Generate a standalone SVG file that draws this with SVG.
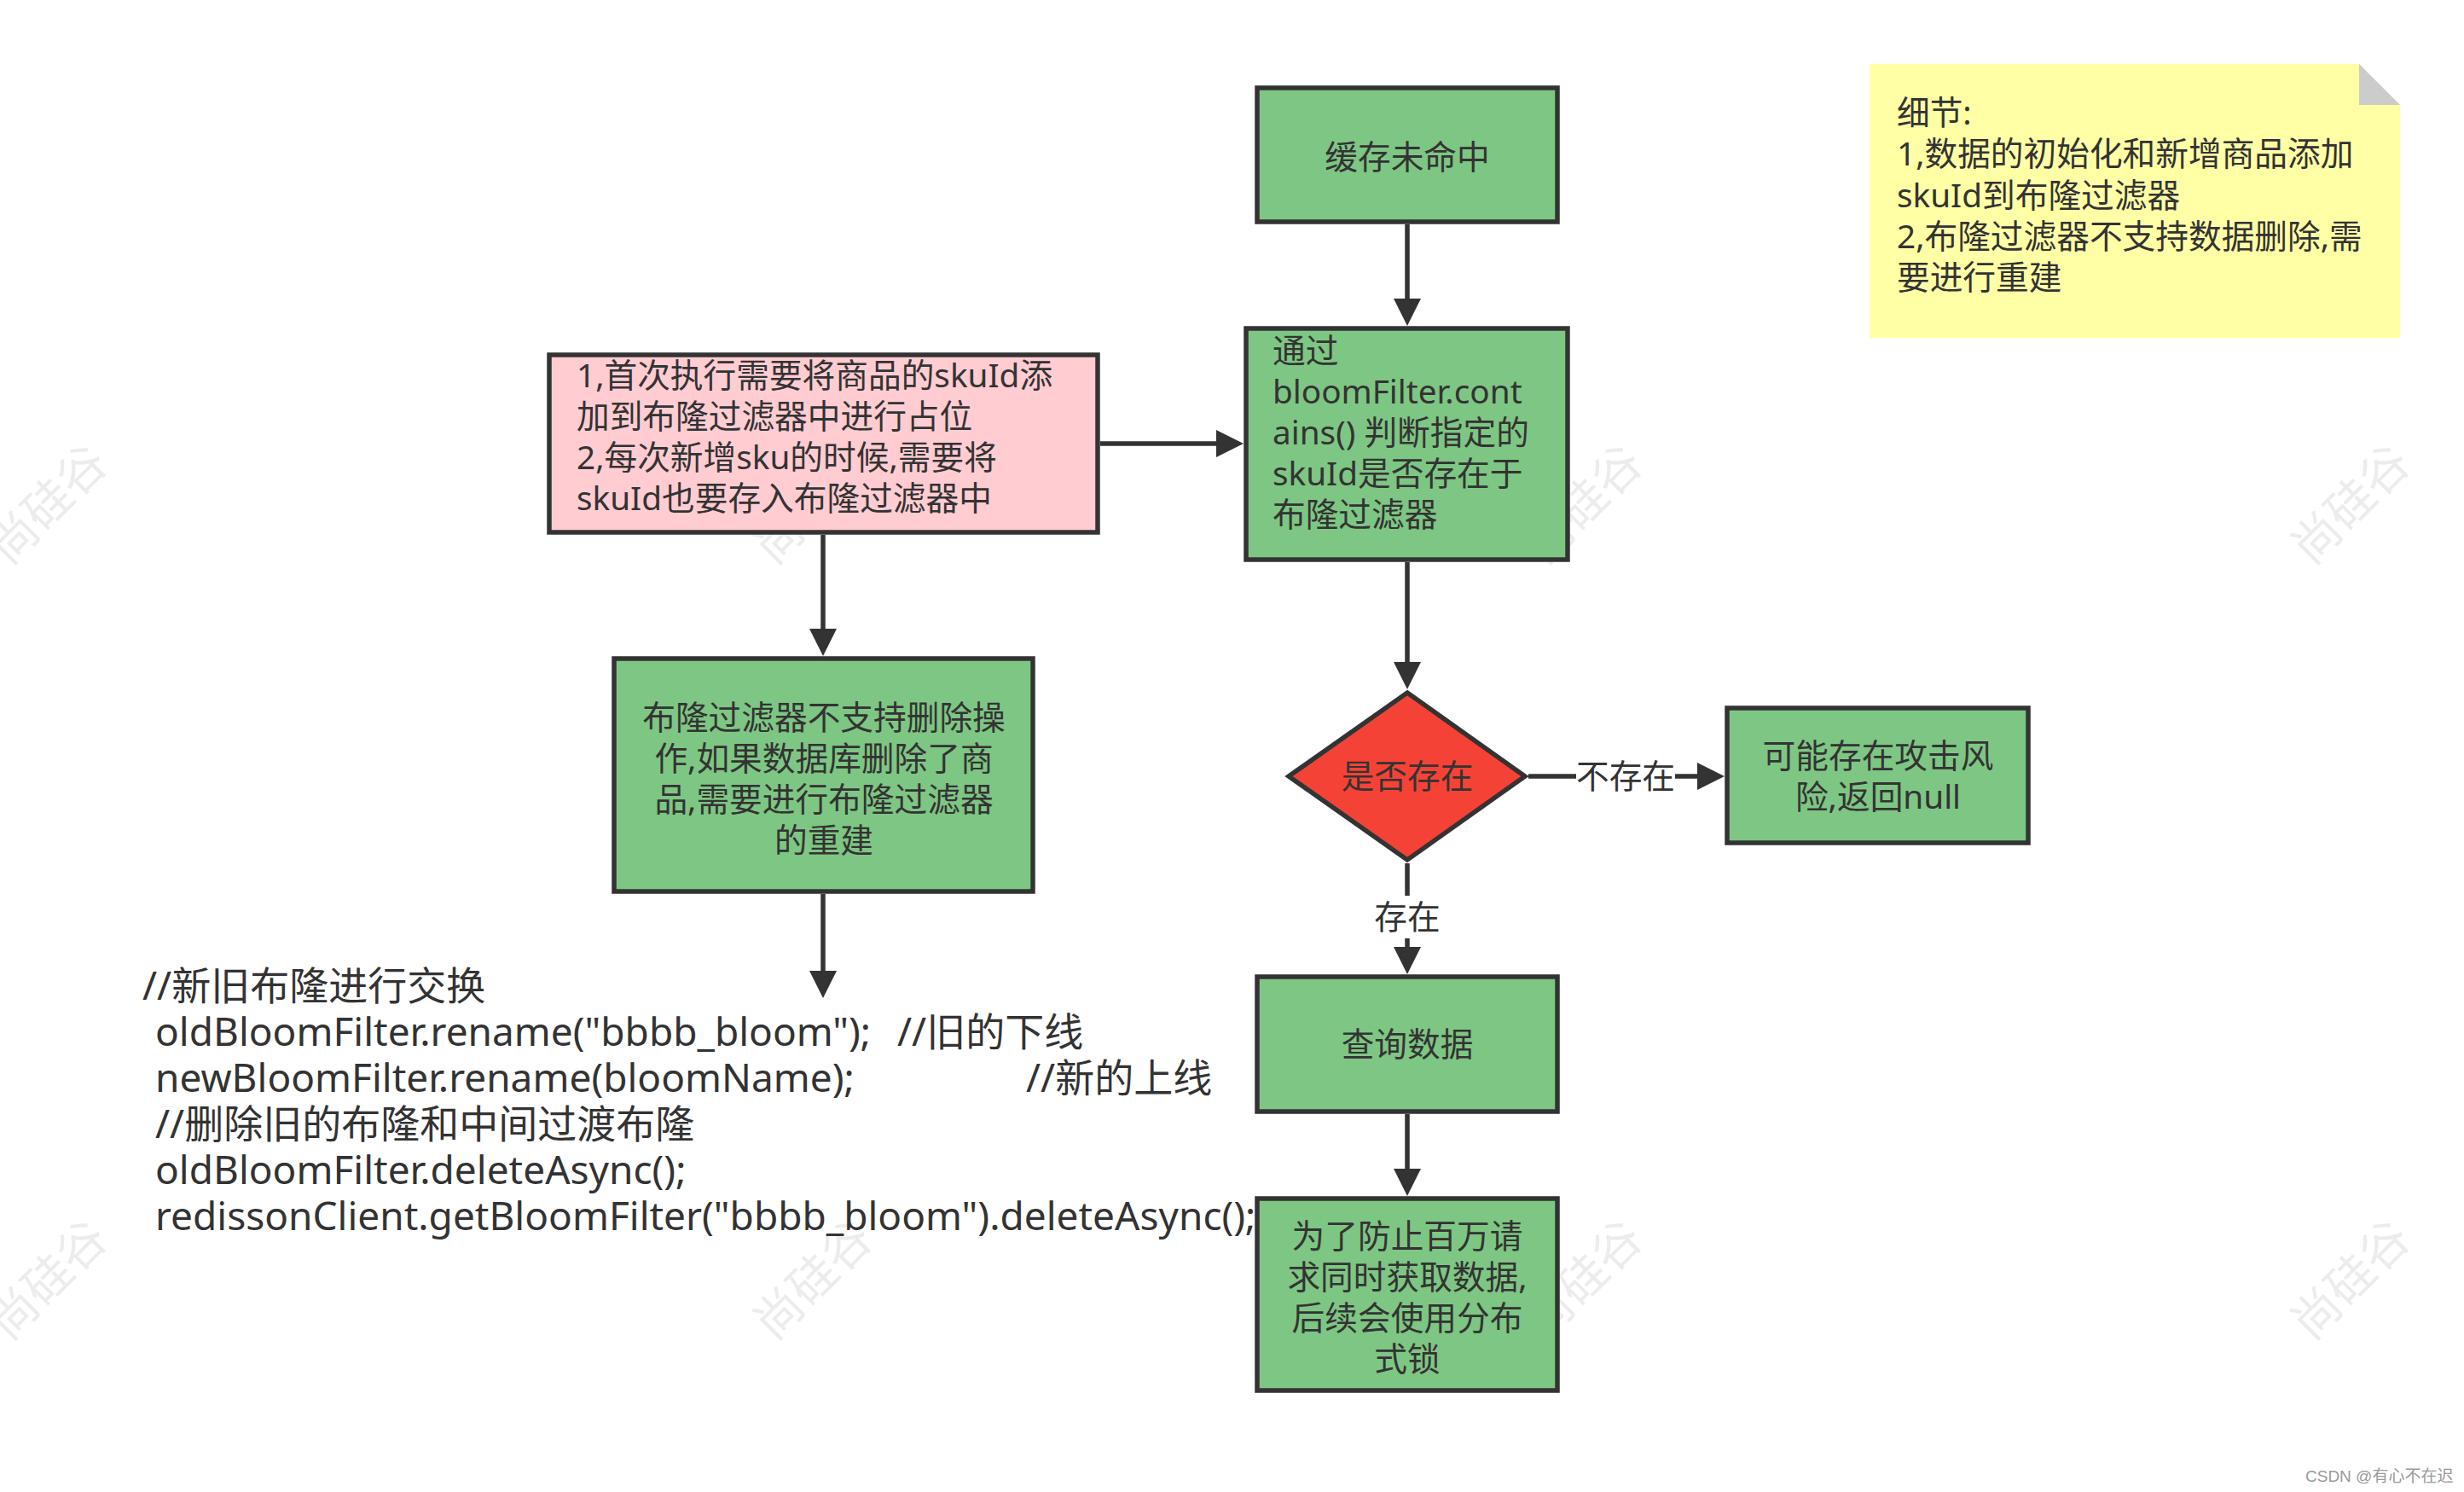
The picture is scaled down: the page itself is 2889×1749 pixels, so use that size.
<svg xmlns="http://www.w3.org/2000/svg" width="2889" height="1749" viewBox="0 0 2889 1749">
<defs>
<style>
.t{font-family:"Noto Sans","Noto Sans CJK SC",sans-serif;font-size:38.7px;fill:#333333}
.c{text-anchor:middle}
.code{font-family:"Noto Sans","Noto Sans CJK SC",sans-serif;font-size:46px;fill:#333333}
.box{stroke:#333333;stroke-width:5.5}
.g{fill:#7EC683}
.ln{fill:none;stroke:#333333;stroke-width:5.5}
.wm{font-family:"Noto Sans CJK SC",sans-serif;font-size:56px;fill:#ececec;text-anchor:middle}
</style>
<marker id="ah" viewBox="0 0 10 10" refX="0" refY="5" markerUnits="userSpaceOnUse" markerWidth="32" markerHeight="32" orient="auto">
<path d="M0,0 L10,5 L0,10 Z" fill="#333333"/>
</marker>
</defs>
<rect width="2889" height="1749" fill="#ffffff"/>
<g id="watermarks">
<text class="wm" transform="translate(70,605) rotate(-45)">尚硅谷</text>
<text class="wm" transform="translate(967,605) rotate(-45)">尚硅谷</text>
<text class="wm" transform="translate(1870,605) rotate(-45)">尚硅谷</text>
<text class="wm" transform="translate(2770,605) rotate(-45)">尚硅谷</text>
<text class="wm" transform="translate(70,1514) rotate(-45)">尚硅谷</text>
<text class="wm" transform="translate(967,1514) rotate(-45)">尚硅谷</text>
<text class="wm" transform="translate(1870,1514) rotate(-45)">尚硅谷</text>
<text class="wm" transform="translate(2770,1514) rotate(-45)">尚硅谷</text>
</g>
<g id="code-note">
<text class="code" x="167" y="1172">//新旧布隆进行交换</text>
<text class="code" y="1226"><tspan x="182">oldBloomFilter.rename("bbbb_bloom");</tspan><tspan x="1052">//旧的下线</tspan></text>
<text class="code" y="1280"><tspan x="182">newBloomFilter.rename(bloomName);</tspan><tspan x="1203">//新的上线</tspan></text>
<text class="code" x="182" y="1334">//删除旧的布隆和中间过渡布隆</text>
<text class="code" x="182" y="1388">oldBloomFilter.deleteAsync();</text>
<text class="code" x="182" y="1442">redissonClient.getBloomFilter("bbbb_bloom").deleteAsync();</text>
</g>
<g id="connectors">
<line class="ln" x1="1650" y1="263" x2="1650" y2="350" marker-end="url(#ah)"/>
<line class="ln" x1="1290" y1="520" x2="1426" y2="520" marker-end="url(#ah)"/>
<line class="ln" x1="965" y1="627" x2="965" y2="737" marker-end="url(#ah)"/>
<line class="ln" x1="965" y1="1048" x2="965" y2="1138" marker-end="url(#ah)"/>
<line class="ln" x1="1650" y1="659" x2="1650" y2="776" marker-end="url(#ah)"/>
<line class="ln" x1="1792" y1="910" x2="1990" y2="910" marker-end="url(#ah)"/>
<rect x="1848" y="885" width="116" height="50" fill="#ffffff"/>
<text class="t c" x="1906" y="924">不存在</text>
<line class="ln" x1="1650" y1="1012" x2="1650" y2="1110" marker-end="url(#ah)"/>
<rect x="1610" y="1050" width="80" height="50" fill="#ffffff"/>
<text class="t c" x="1650" y="1089">存在</text>
<line class="ln" x1="1650" y1="1306" x2="1650" y2="1370" marker-end="url(#ah)"/>
</g>
<g id="cache-miss">
<rect class="box g" x="1474" y="103" width="352" height="157"/>
<text class="t c" x="1650" y="198">缓存未命中</text>
</g>
<g id="bloom-check">
<rect class="box g" x="1461" y="385" width="377" height="271"/>
<text class="t"><tspan x="1492" y="425">通过</tspan><tspan x="1492" y="473">bloomFilter.cont</tspan><tspan x="1492" y="521">ains() 判断指定的</tspan><tspan x="1492" y="569">skuId是否存在于</tspan><tspan x="1492" y="617">布隆过滤器</tspan></text>
</g>
<g id="init-note">
<rect class="box" fill="#FFCCD2" x="644" y="416" width="643" height="208"/>
<text class="t"><tspan x="676" y="454">1,首次执行需要将商品的skuId添</tspan><tspan x="676" y="502">加到布隆过滤器中进行占位</tspan><tspan x="676" y="550">2,每次新增sku的时候,需要将</tspan><tspan x="676" y="598">skuId也要存入布隆过滤器中</tspan></text>
</g>
<g id="rebuild">
<rect class="box g" x="720" y="772" width="491" height="273"/>
<text class="t c"><tspan x="966" y="855">布隆过滤器不支持删除操</tspan><tspan x="966" y="903">作,如果数据库删除了商</tspan><tspan x="966" y="951">品,需要进行布隆过滤器</tspan><tspan x="966" y="999">的重建</tspan></text>
</g>
<g id="decision">
<polygon class="box" fill="#F44336" points="1650,812 1788,910 1650,1008 1511,910"/>
<text class="t c" x="1650" y="924">是否存在</text>
</g>
<g id="return-null">
<rect class="box g" x="2025" y="830" width="353" height="158"/>
<text class="t c"><tspan x="2202" y="900">可能存在攻击风</tspan><tspan x="2202" y="948">险,返回null</tspan></text>
</g>
<g id="query-data">
<rect class="box g" x="1474" y="1145" width="352" height="158"/>
<text class="t c" x="1650" y="1238">查询数据</text>
</g>
<g id="dist-lock">
<rect class="box g" x="1474" y="1405" width="352" height="225"/>
<text class="t c"><tspan x="1650" y="1463">为了防止百万请</tspan><tspan x="1650" y="1511">求同时获取数据,</tspan><tspan x="1650" y="1559">后续会使用分布</tspan><tspan x="1650" y="1607">式锁</tspan></text>
</g>
<g id="details-note">
<path d="M2192,75 H2766 L2814,123 V396 H2192 Z" fill="#FFFFA6"/>
<path d="M2766,75 L2814,123 H2766 Z" fill="#CCCCCC"/>
<text class="t"><tspan x="2224" y="146">细节:</tspan><tspan x="2224" y="194">1,数据的初始化和新增商品添加</tspan><tspan x="2224" y="243">skuId到布隆过滤器</tspan><tspan x="2224" y="291">2,布隆过滤器不支持数据删除,需</tspan><tspan x="2224" y="339">要进行重建</tspan></text>
</g>
<text x="2703" y="1737" font-family="'Liberation Sans','Noto Sans CJK SC',sans-serif" font-size="19" fill="#9a9a9a">CSDN @有心不在迟</text>
</svg>
